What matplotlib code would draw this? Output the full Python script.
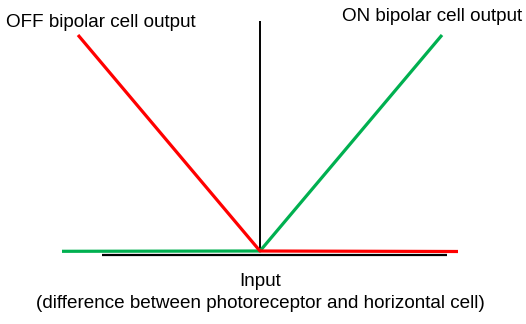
import matplotlib
matplotlib.use("Agg")
import matplotlib.pyplot as plt

# Data (in pixel-like coordinates of the diagram)
off_x = [78, 260, 458]
off_y = [35, 251, 251.5]
on_x = [62, 260, 442]
on_y = [251.3, 251, 35]
axis_x = [102, 447]
axis_y = [254.5, 254.5]
vert_x = [260, 260]
vert_y = [21, 251]

label_off = "OFF bipolar cell output"
label_on = "ON bipolar cell output"
label_input = "Input"
label_input_sub = "(difference between photoreceptor and horizontal cell)"

plt.rcParams['font.family'] = ['Liberation Sans', 'DejaVu Sans']
fig = plt.figure(figsize=(5.26, 3.24), dpi=100)
ax = fig.add_axes([0, 0, 1, 1])
ax.set_xlim(0, 526)
ax.set_ylim(324, 0)
ax.axis('off')

ax.plot(axis_x, axis_y, color='black', lw=1.6, solid_capstyle='butt')
ax.plot(vert_x, vert_y, color='black', lw=1.4, solid_capstyle='butt')
ax.plot(on_x, on_y, color='#00B050', lw=2.3, solid_capstyle='butt')
ax.plot(off_x, off_y, color='#FF0000', lw=2.3, solid_capstyle='butt')

fs = 13.6
ax.text(6, 27, label_off, fontsize=fs, ha='left', va='baseline')
ax.text(522.5, 21, label_on, fontsize=fs, ha='right', va='baseline')
ax.text(260, 286, label_input, fontsize=fs, ha='center', va='baseline')
ax.text(260.5, 308, label_input_sub, fontsize=fs, ha='center', va='baseline')

fig.savefig("out.png", dpi=100)
